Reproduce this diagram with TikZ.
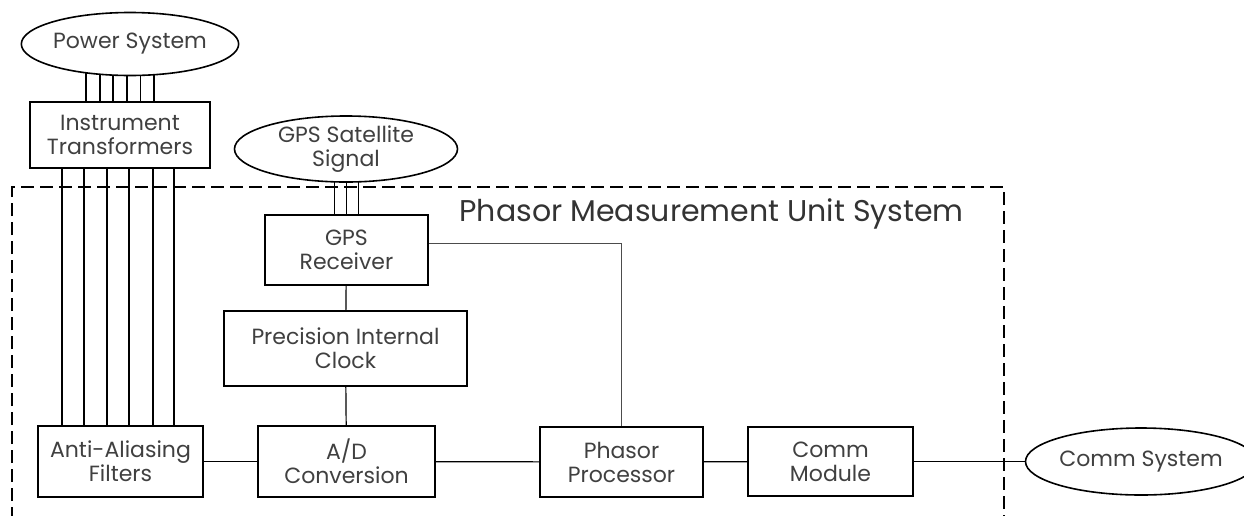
\documentclass[tikz,border=0pt]{standalone}
\usepackage{fontspec}
\setmainfont{Poppins}
\usetikzlibrary{shapes.geometric,backgrounds}

\tikzset{
  block/.style={draw, line width=2.4pt, fill=white, minimum width=#1, minimum height=70pt,
    align=center, text=black!75, font=\fontsize{22}{24}\selectfont, inner sep=0pt},
  cloud/.style={draw, ellipse, line width=1.6pt, fill=white, align=center, text=black!75,
    font=\fontsize{22}{24}\selectfont, inner sep=0pt},
  wire/.style={line width=1.8pt},
  link/.style={line width=1.2pt}
}

\begin{document}
\begin{tikzpicture}[x=1pt,y=-1pt]
\useasboundingbox (0,0) rectangle (1244,515);

% outside the unit
\node[cloud, minimum width=214pt, minimum height=63pt] (power) at (130,44) {Power System};
\node[block=180pt, minimum height=66pt] (instr) at (120,135) {Instrument\\Transformers};
\node[cloud, minimum width=223pt, minimum height=58pt] (gpssat) at (346,149) {GPS Satellite\\Signal};
\node[cloud, minimum width=203pt, minimum height=67pt] (commsys) at (1141,461.5) {Comm System};

% the unit itself
\draw[link, dash pattern=on 13pt off 6pt] (12,520) -- (12,187) -- (1004,187) -- (1004,520);
\node[anchor=west, text=black!80, font=\fontsize{30}{32}\selectfont] (pmu) at (456,214) {Phasor Measurement Unit System};

\node[block=163pt] (gps) at (346.5,250) {GPS\\Receiver};
\node[block=243pt, minimum height=75pt] (clock) at (345.5,348.5) {Precision Internal\\Clock};
\node[block=165pt, minimum height=71pt] (filt) at (120.5,461.5) {Anti-Aliasing\\Filters};
\node[block=177pt, minimum height=71pt] (adc) at (346.5,461.5) {A/D\\Conversion};
\node[block=163pt] (phasor) at (621.5,462) {Phasor\\Processor};
\node[block=165pt, minimum height=69pt] (comm) at (830.5,461.5) {Comm\\Module};

\begin{scope}[on background layer]
\foreach \dx in {-34,-20.4,-6.8,6.8,20.4,34}
  \draw[wire] ([xshift=\dx]instr.north) -- ([xshift=\dx]instr.north |- power.center);
\foreach \dx in {-12,0,12}
  \draw[wire] ([xshift=\dx]gps.north) -- ([xshift=\dx]gps.north |- gpssat.center);
\end{scope}

\foreach \dx in {-58,-36,-13,9,33,54}
  \draw[wire] ([xshift=\dx]instr.south) -- ([xshift=\dx]instr.south |- filt.north);

\draw[link] (gps) -- (clock);
\draw[link] (clock) -- (adc);
\draw[link] (filt) -- (adc);
\draw[link] (adc) -- (phasor);
\draw[link] (phasor) -- (comm);
\draw[link] (comm) -- (commsys);
\draw[line width=0.8pt, black!70] ([yshift=7]gps.east) -| (phasor.north);
\end{tikzpicture}
\end{document}
